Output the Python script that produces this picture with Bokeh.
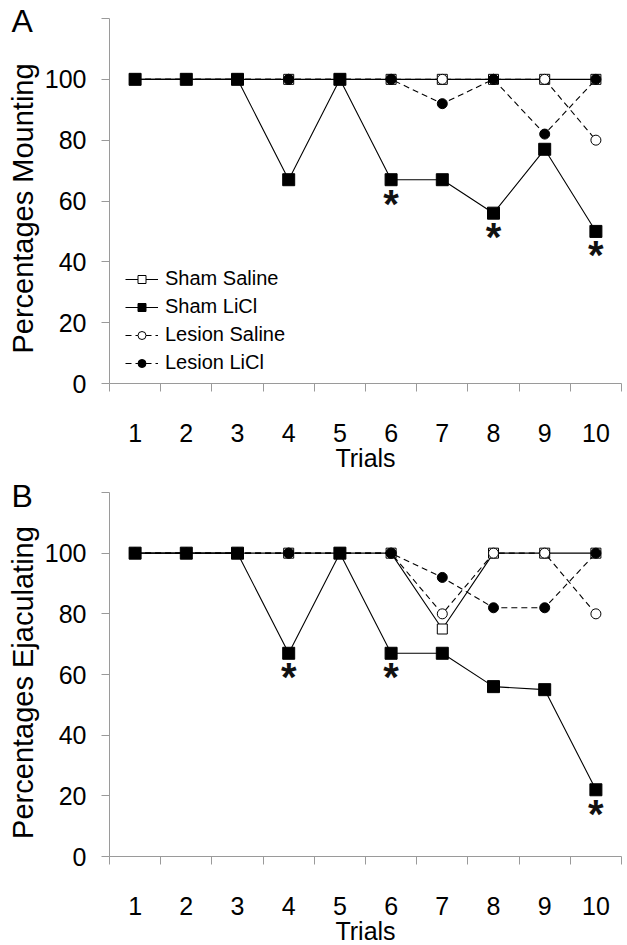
import math
from bokeh.plotting import figure
from bokeh.models import FixedTicker, Legend, LegendItem, Label, Range1d
from bokeh.layouts import column
from bokeh.embed import file_html
from bokeh.resources import INLINE
from bokeh.core.properties import value

# ---------------- data ----------------
trials = [1, 2, 3, 4, 5, 6, 7, 8, 9, 10]
x_tick_labels = ["1", "2", "3", "4", "5", "6", "7", "8", "9", "10"]
y_ticks = [0, 20, 40, 60, 80, 100, 120]
y_tick_labels = ["0", "20", "40", "60", "80", "100", ""]

# Panel A: Percentages Mounting
a_sham_saline = [100, 100, 100, 100, 100, 100, 100, 100, 100, 100]
a_sham_licl = [100, 100, 100, 67, 100, 67, 67, 56, 77, 50]
a_lesion_saline = [100, 100, 100, 100, 100, 100, 100, 100, 100, 80]
a_lesion_licl = [100, 100, 100, 100, 100, 100, 92, 100, 82, 100]
a_star_trials = [6, 8, 10]

# Panel B: Percentages Ejaculating
b_sham_saline = [100, 100, 100, 100, 100, 100, 75, 100, 100, 100]
b_sham_licl = [100, 100, 100, 67, 100, 67, 67, 56, 55, 22]
b_lesion_saline = [100, 100, 100, 100, 100, 100, 80, 100, 100, 80]
b_lesion_licl = [100, 100, 100, 100, 100, 100, 92, 82, 82, 100]
b_star_trials = [4, 6, 10]

series_names = ["Sham Saline", "Sham LiCl", "Lesion Saline", "Lesion LiCl"]

# ---------------- layout (pixels) ----------------
FONT = "Liberation Sans"
AXIS_GREY = "#9a9a9a"
W = 627
X_LO_PX, X_HI_PX = 109, 621          # where the category band edges 0.5 / 10.5 sit
X_LO, X_HI = 0.5, 10.5
Y_MAX = 120


def make_panel(letter, ylabel, ss, sl, ls, ll, star_trials, height, top_px, zero_px,
               letter_center_px, ylabel_center_px, show_legend):
    xppu = (X_HI_PX - X_LO_PX) / (X_HI - X_LO)
    yppu = (zero_px - top_px) / Y_MAX
    x_range = Range1d(X_LO - X_LO_PX / xppu, X_HI + (W - X_HI_PX) / xppu)
    y_range = Range1d(-(height - zero_px) / yppu, Y_MAX + top_px / yppu)

    p = figure(width=W, height=height, output_backend="svg", toolbar_location=None,
               x_range=x_range, y_range=y_range, min_border=0,
               min_border_left=0, min_border_right=0,
               min_border_top=0, min_border_bottom=0)
    p.grid.visible = False
    p.outline_line_color = None
    p.background_fill_color = "white"
    p.border_fill_color = "white"

    # x axis: labels at integers, tick marks between categories
    xa = p.xaxis[0]
    xa.fixed_location = 0
    xa.bounds = (X_LO, X_HI)
    xa.ticker = FixedTicker(ticks=trials, minor_ticks=[t - 0.5 for t in trials] + [10.5])
    xa.major_label_overrides = {t: lab for t, lab in zip(trials, x_tick_labels)}
    xa.major_tick_out = 0
    xa.major_tick_in = 0
    xa.minor_tick_out = 8
    xa.minor_tick_in = 0
    xa.axis_line_color = AXIS_GREY
    xa.minor_tick_line_color = AXIS_GREY
    xa.major_label_text_font = FONT
    xa.major_label_text_font_size = "25px"
    xa.major_label_text_color = "black"
    xa.major_label_standoff = 32

    ya = p.yaxis[0]
    ya.fixed_location = X_LO
    ya.bounds = (0, Y_MAX)
    ya.ticker = FixedTicker(ticks=y_ticks)
    ya.major_label_overrides = {t: lab for t, lab in zip(y_ticks, y_tick_labels)}
    ya.major_tick_out = 8
    ya.major_tick_in = 0
    ya.minor_tick_line_color = None
    ya.axis_line_color = AXIS_GREY
    ya.major_tick_line_color = AXIS_GREY
    ya.major_label_text_font = FONT
    ya.major_label_text_font_size = "25px"
    ya.major_label_text_color = "black"
    ya.major_label_standoff = 15

    # series (drawing order: Sham Saline, Lesion Saline, Lesion LiCl, Sham LiCl)
    l_ss = p.line(trials, ss, line_color="black", line_width=1.1)
    m_ss = p.scatter(trials, ss, marker="square", size=10, fill_color="white",
                     line_color="black", line_width=1)
    l_ls = p.line(trials, ls, line_color="black", line_width=1.1, line_dash="6 4")
    m_ls = p.scatter(trials, ls, marker="circle", size=10, fill_color="white",
                     line_color="black", line_width=1)
    l_ll = p.line(trials, ll, line_color="black", line_width=1.1, line_dash="6 4")
    m_ll = p.scatter(trials, ll, marker="circle", size=10, fill_color="black",
                     line_color="black")
    l_sl = p.line(trials, sl, line_color="black", line_width=1.1)
    m_sl = p.scatter(trials, sl, marker="square", size=12, fill_color="black",
                     line_color="black")

    # significance asterisks under Sham LiCl points
    star_y = [sl[t - 1] for t in star_trials]
    p.text(x=star_trials, y=star_y, text=["*"] * len(star_trials),
           text_font=value(FONT), text_font_style="bold", text_font_size="40px",
           text_align="center", text_baseline="alphabetic", y_offset=24,
           text_color="#111111")

    if show_legend:
        items = [
            LegendItem(label=series_names[0], renderers=[l_ss, m_ss]),
            LegendItem(label=series_names[1], renderers=[l_sl, m_sl]),
            LegendItem(label=series_names[2], renderers=[l_ls, m_ls]),
            LegendItem(label=series_names[3], renderers=[l_ll, m_ll]),
        ]
        leg = Legend(items=items, location=(125, height - 362 - 12), glyph_width=33,
                     glyph_height=20, label_height=23, spacing=5, padding=0, margin=0,
                     label_standoff=7, label_text_font=FONT, label_text_font_size="20px",
                     label_text_color="black", background_fill_alpha=0,
                     border_line_color=None)
        p.add_layout(leg, "center")

    # panel letter
    p.add_layout(Label(x=11, y=height - letter_center_px, x_units="screen", y_units="screen",
                       text=letter, text_font=FONT, text_font_size="32px",
                       text_color="black", text_baseline="middle", text_align="left"))
    # y axis title
    p.add_layout(Label(x=22, y=height - ylabel_center_px, x_units="screen", y_units="screen",
                       text=ylabel, angle=math.pi / 2, text_font=FONT,
                       text_font_size="29px", text_color="black",
                       text_baseline="middle", text_align="center"))
    # x axis title
    p.add_layout(Label(x=(X_LO + X_HI) / 2, y=height - (zero_px + 74), x_units="data",
                       y_units="screen", text="Trials", text_font=FONT,
                       text_font_size="25px", text_color="black",
                       text_baseline="middle", text_align="center"))
    return p


pA = make_panel("A", "Percentages Mounting", a_sham_saline, a_sham_licl,
                a_lesion_saline, a_lesion_licl, a_star_trials,
                height=474, top_px=18, zero_px=383, letter_center_px=20,
                ylabel_center_px=208, show_legend=True)
pB = make_panel("B", "Percentages Ejaculating", b_sham_saline, b_sham_licl,
                b_lesion_saline, b_lesion_licl, b_star_trials,
                height=471, top_px=18, zero_px=382, letter_center_px=21,
                ylabel_center_px=208, show_legend=False)

p = column(pA, pB)
open("out.html", "w").write(file_html(p, INLINE))
